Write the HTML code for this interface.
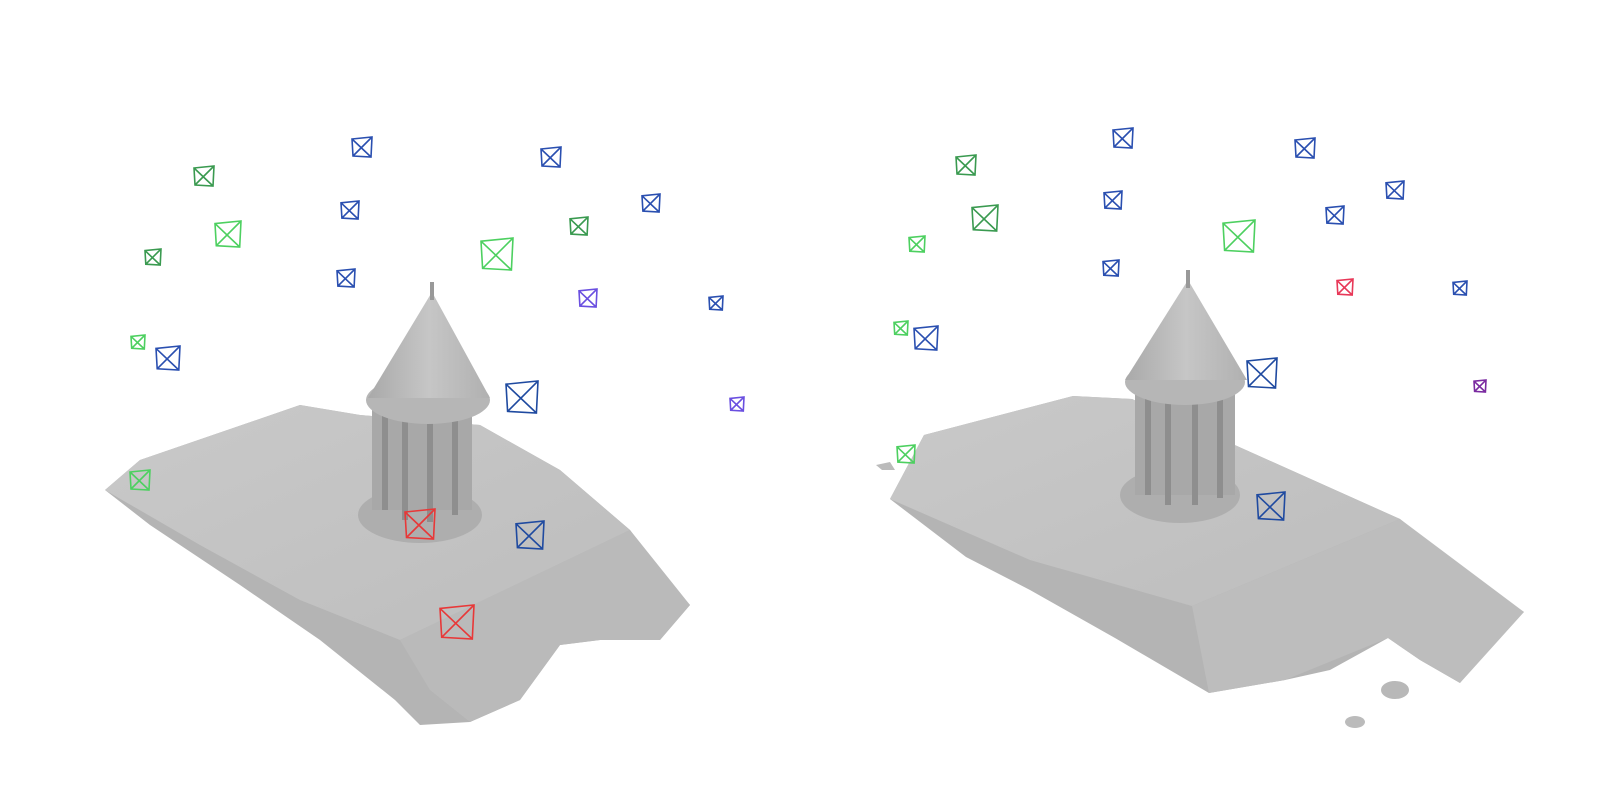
<!DOCTYPE html>
<html><head><meta charset="utf-8"><style>
html,body{margin:0;padding:0;background:#fff;width:1600px;height:800px;overflow:hidden}
svg{display:block}
</style></head><body>
<svg id="scene" width="1600" height="800" viewBox="0 0 1600 800">
<defs>
<linearGradient id="gTop" x1="0" y1="0" x2="1" y2="1"><stop offset="0" stop-color="#c9c9c9"/><stop offset="1" stop-color="#bdbdbd"/></linearGradient>
<linearGradient id="gCone" x1="0" y1="0" x2="1" y2="0"><stop offset="0" stop-color="#a9a9a9"/><stop offset="0.5" stop-color="#c6c6c6"/><stop offset="1" stop-color="#b0b0b0"/></linearGradient>
</defs>
<g>
<polygon fill="#b4b4b4" points="105,490 150,525 240,585 320,640 395,700 420,725 470,722 520,700 560,645 600,640 660,640 690,605 650,560 630,530 560,470 480,425 360,415 300,405 140,460"/>
<polygon fill="url(#gTop)" points="105,490 140,460 300,405 360,415 480,425 560,470 630,530 400,640 300,600 200,545"/>
<polygon fill="#bababa" points="630,530 690,605 660,640 600,640 560,645 520,700 470,722 430,690 400,640"/>
<ellipse cx="420" cy="515" rx="62" ry="28" fill="#aeaeae"/>
<rect x="372" y="405" width="100" height="105" fill="#a8a8a8"/>
<g stroke="#8e8e8e" stroke-width="6"><line x1="385" y1="410" x2="385" y2="510"/><line x1="405" y1="415" x2="405" y2="520"/><line x1="430" y1="415" x2="430" y2="522"/><line x1="455" y1="412" x2="455" y2="515"/></g>
<ellipse cx="428" cy="400" rx="62" ry="24" fill="#b6b6b6"/>
<polygon fill="url(#gCone)" points="432,292 368,398 490,398"/>
<line x1="432" y1="282" x2="432" y2="300" stroke="#999" stroke-width="4"/>
</g>
<g>
<polygon fill="#b4b4b4" points="890,499 924,435 1073,396 1132,399 1400,519 1460,570 1524,612 1495,630 1460,683 1420,660 1388,638 1330,670 1285,680 1209,693 1115,638 1030,590 966,557"/>
<polygon fill="url(#gTop)" points="890,499 924,435 1073,396 1132,399 1400,519 1192,606 1030,560"/>
<polygon fill="#bdbdbd" points="1400,519 1524,612 1460,683 1420,660 1388,638 1285,680 1209,693 1192,606"/>
<ellipse cx="1395" cy="690" rx="14" ry="9" fill="#b8b8b8"/>
<ellipse cx="1355" cy="722" rx="10" ry="6" fill="#bbb"/>
<polygon fill="#bbb" points="876,465 890,462 895,470 882,470"/>
<ellipse cx="1180" cy="495" rx="60" ry="28" fill="#aeaeae"/>
<rect x="1135" y="385" width="100" height="110" fill="#a8a8a8"/>
<g stroke="#8e8e8e" stroke-width="6"><line x1="1148" y1="390" x2="1148" y2="495"/><line x1="1168" y1="395" x2="1168" y2="505"/><line x1="1195" y1="395" x2="1195" y2="505"/><line x1="1220" y1="392" x2="1220" y2="498"/></g>
<ellipse cx="1185" cy="382" rx="60" ry="23" fill="#b6b6b6"/>
<polygon fill="url(#gCone)" points="1188,280 1125,380 1247,380"/>
<line x1="1188" y1="270" x2="1188" y2="288" stroke="#999" stroke-width="4"/>
</g>
<g id="cams"></g>
</svg>
<script>
const camX=[362,204,228,350,153,346,138,168,140,497,551,579,651,588,716,522,737,420,530,457,
 1123,966,985,1113,917,1111,901,926,906,1305,1395,1335,1239,1345,1460,1262,1480,1271];
const camY=[147,176,234,210,257,278,342,358,480,254,157,226,203,298,303,397,404,524,535,622,
 138,165,218,200,244,268,328,338,454,148,190,215,236,287,288,373,386,506];
const camS=[20,20,26,18,16,18,14,24,20,32,20,18,18,18,14,32,14,30,28,34,
 20,20,26,18,16,16,14,24,18,20,18,18,32,16,14,30,12,28];
const camC=["#2a4fb0","#3a9a50","#4dd060","#2a4fb0","#3a9a50","#2a4fb0","#4dd060","#2a4fb0","#4dd060","#4dd060","#2a4fb0","#3a9a50","#2a4fb0","#6a4fe0","#2a4fb0","#1f4aa0","#6a4fe0","#e83838","#1f4aa0","#e83838",
 "#2a4fb0","#3a9a50","#3a9a50","#2a4fb0","#4dd060","#2a4fb0","#4dd060","#2a4fb0","#4dd060","#2a4fb0","#2a4fb0","#2a4fb0","#4dd060","#e83858","#2a4fb0","#1f4aa0","#7a2aa0","#1f4aa0"];
const g=document.getElementById('cams');
const NS='http://www.w3.org/2000/svg';
for(let i=0;i<camX.length;i++){
  const x=camX[i],y=camY[i],s=camS[i]/2;
  const p=document.createElementNS(NS,'path');
  
  
  p.setAttribute('d',`M${x-s},${y-s*0.8}L${x+s},${y-s}L${x+s*0.9},${y+s}L${x-s*0.9},${y+s*0.9}Z M${x-s},${y-s*0.8}L${x+s*0.9},${y+s} M${x+s},${y-s}L${x-s*0.9},${y+s*0.9}`);
  p.setAttribute('fill','none');
  p.setAttribute('stroke',camC[i]);
  p.setAttribute('stroke-width','1.6');
  g.appendChild(p);
}
</script>
</body></html>
